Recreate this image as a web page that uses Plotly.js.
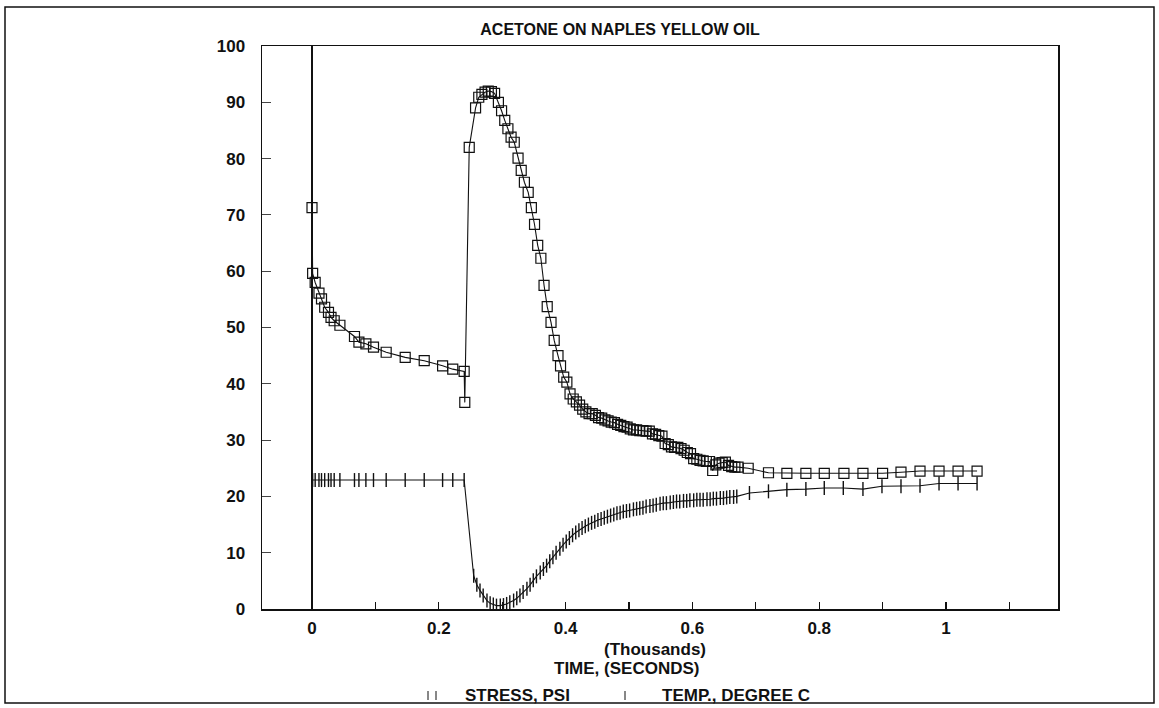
<!DOCTYPE html>
<html>
<head>
<meta charset="utf-8">
<script src="https://cdn.plot.ly/plotly-3.0.1.min.js"></script>
<style>
  html, body { margin: 0; padding: 0; background: #ffffff; }
  #chart { width: 1159px; height: 708px; }
</style>
</head>
<body>
<div id="chart"></div>
<script>
// Stress (psi) readings, time in seconds
const stressTime = [
  0, 1, 5, 11, 15, 20, 26, 30, 35, 44, 67, 74, 85, 97, 117, 147, 177, 206, 222, 240, 241,
  248, 258, 263, 268, 273, 278, 283, 288, 294, 299, 304, 309, 314, 319, 325, 330, 335, 341,
  346, 351, 356, 361, 366, 371, 377, 382, 388, 392, 397, 402, 407, 412, 417, 422, 427, 432,
  437, 442, 447, 452, 457, 462, 467, 472, 477, 482, 487, 492, 497, 502, 507, 512, 517, 522,
  527, 532, 537, 542, 547, 552, 557, 562, 567, 572, 577, 582, 587, 592, 597, 602, 607, 612,
  617, 622, 627, 632, 637, 642, 647, 652, 657, 662, 667, 672, 688, 720, 749, 779, 808, 839,
  869, 900, 929, 959, 989, 1019, 1049
];
const stressPsi = [
  71.3, 59.6, 58.0, 56.1, 55.1, 53.6, 52.7, 51.8, 51.2, 50.4, 48.4, 47.4, 47.1, 46.5, 45.6,
  44.7, 44.1, 43.2, 42.6, 42.2, 36.7,
  82.0, 89.0, 90.9, 91.4, 91.8, 92.0, 91.9, 91.6, 90.0, 88.5, 86.8, 85.3, 83.8, 82.9, 80.1,
  77.9, 75.8, 74.0, 71.3, 68.3, 64.6, 62.3, 57.5, 53.7, 50.9, 47.7, 45.0, 43.2, 41.2, 40.3,
  38.2, 37.3, 36.8, 36.2, 35.5, 35.0, 34.7, 34.7, 34.4, 34.0, 33.9, 33.6, 33.4, 33.2, 33.1,
  32.8, 32.6, 32.4, 32.3, 32.0, 31.8, 31.8, 31.7, 31.7, 31.6, 31.6, 31.1, 31.0, 30.8, 30.7,
  29.4, 29.2, 28.8, 28.7, 28.7, 28.5, 28.2, 27.8, 27.6, 26.7, 26.6, 26.4, 26.3, 26.2, 26.2,
  24.6, 25.6, 25.9, 26.0, 26.1, 25.5, 25.3, 25.2, 25.2, 25.0, 24.2, 24.1, 24.1, 24.1, 24.1,
  24.1, 24.1, 24.3, 24.5, 24.5, 24.5, 24.5
];

// Temperature (degree C) readings, time in seconds
const tempTime = [
  0, 1, 5, 11, 15, 20, 26, 30, 35, 44, 67, 74, 85, 97, 117, 147, 177, 206, 222, 240,
  255, 260, 265, 270, 276, 281, 286, 291, 297, 302, 307, 312, 318, 323, 328, 333, 339, 344,
  349, 354, 360, 365, 370, 375, 380, 385, 391, 396, 401, 406, 411, 416, 421, 426, 431, 436,
  441, 446, 451, 456, 461, 466, 471, 476, 481, 486, 491, 496, 501, 507, 512, 517, 522, 527,
  533, 538, 543, 549, 554, 559, 565, 570, 575, 580, 586, 591, 596, 602, 607, 612, 617, 623,
  628, 633, 638, 644, 649, 654, 659, 665, 670, 690, 720, 749, 779, 808, 838, 869, 899, 929,
  959, 989, 1019, 1049
];
const tempDegC = [
  22.9, 22.9, 22.9, 22.9, 22.9, 22.9, 22.9, 22.9, 22.9, 22.9, 22.9, 22.9, 22.9, 22.9, 22.9,
  22.9, 22.9, 22.9, 22.9, 22.9,
  5.9, 4.3, 3.3, 2.4, 1.5, 1.0, 0.8, 0.6, 0.6, 0.7, 0.9, 1.2, 1.5, 1.9, 2.4, 3.0, 3.6, 4.3,
  5.1, 5.8, 6.5, 7.1, 7.7, 8.5, 9.2, 10.0, 10.7, 11.4, 12.0, 12.6, 13.1, 13.6, 14.0, 14.4,
  14.7, 15.0, 15.3, 15.5, 15.8, 16.0, 16.2, 16.4, 16.6, 16.8, 17.0, 17.1, 17.3, 17.4, 17.5,
  17.7, 17.8, 17.9, 18.0, 18.2, 18.3, 18.4, 18.5, 18.7, 18.8, 18.8, 18.9, 19.0, 19.1, 19.1,
  19.2, 19.2, 19.3, 19.3, 19.4, 19.4, 19.4, 19.5, 19.5, 19.6, 19.6, 19.7, 19.7, 19.8, 19.9,
  19.9, 20.0, 20.6, 20.9, 21.2, 21.3, 21.5, 21.5, 21.3, 21.8, 21.8, 21.9, 22.3, 22.3, 22.3
];

// Axis ticks (time shown in thousands of seconds)
const xTickVals = [0, 0.1, 0.2, 0.3, 0.4, 0.5, 0.6, 0.7, 0.8, 0.9, 1.0, 1.1];
const xTickText = ['0', '', '0.2', '', '0.4', '', '0.6', '', '0.8', '', '1', ''];
const yTickVals = [0, 10, 20, 30, 40, 50, 60, 70, 80, 90, 100];

const titleText = 'ACETONE ON NAPLES YELLOW OIL';
const unitText = '(Thousands)';
const xTitleText = 'TIME, (SECONDS)';
const stressName = 'STRESS, PSI';
const tempName = 'TEMP., DEGREE C';

// Page geometry (pixels)
const W = 1159, H = 708;
const PLOT = { l: 262, r: 1058, t: 46, b: 609 };
const px2x = p => (p - PLOT.l) / (PLOT.r - PLOT.l);
const px2y = p => (PLOT.b - p) / (PLOT.b - PLOT.t);

const FONT = 'Liberation Sans, Arial, Helvetica, sans-serif';
const INK = '#111111';

const toThousands = arr => arr.map(v => v / 1000);

const traces = [
  {
    x: toThousands(stressTime), y: stressPsi, name: stressName,
    type: 'scatter', mode: 'lines+markers', cliponaxis: true,
    line: { color: INK, width: 1.1 },
    marker: { symbol: 'square-open', size: 10, color: INK, line: { color: INK, width: 1.2 } }
  },
  {
    x: toThousands(tempTime), y: tempDegC, name: tempName,
    type: 'scatter', mode: 'lines+markers', cliponaxis: true,
    line: { color: INK, width: 1.1 },
    marker: { symbol: 'line-ns-open', size: 10, color: INK, line: { color: INK, width: 1.4 } }
  }
];

const txt = (text, xpx, ypx, anchor) => ({
  text, xref: 'paper', yref: 'paper', x: px2x(xpx), y: px2y(ypx),
  xanchor: anchor || 'center', yanchor: 'middle', showarrow: false,
  font: { family: FONT, size: 17, color: INK, weight: 700 }
});

const vline = (xpx, y0px, y1px, w) => ({
  type: 'line', xref: 'paper', yref: 'paper',
  x0: px2x(xpx), x1: px2x(xpx), y0: px2y(y0px), y1: px2y(y1px),
  line: { color: INK, width: w || 1 }
});

const layout = {
  width: W, height: H, autosize: false,
  paper_bgcolor: '#ffffff', plot_bgcolor: '#ffffff',
  margin: { l: PLOT.l, r: W - PLOT.r, t: PLOT.t, b: H - PLOT.b, pad: 0 },
  showlegend: false,
  font: { family: FONT, size: 17, color: INK },
  title: {
    text: titleText, xref: 'container', yref: 'container',
    x: 620 / W, xanchor: 'center', y: 1 - 29 / H, yanchor: 'middle',
    font: { family: FONT, size: 16, color: INK, weight: 700 }
  },
  xaxis: {
    range: [(PLOT.l - 312) / 634, (PLOT.r - 312) / 634],
    tickmode: 'array', tickvals: xTickVals, ticktext: xTickText,
    ticks: 'inside', ticklen: 7, tickwidth: 1.3, tickcolor: INK,
    showline: true, linecolor: INK, linewidth: 1.5, mirror: true,
    showgrid: false,
    zeroline: true, zerolinecolor: INK, zerolinewidth: 1.5,
    tickfont: { family: FONT, size: 17, color: INK, weight: 700 },
    ticklabelstandoff: 3
  },
  yaxis: {
    range: [0, 100],
    tickmode: 'array', tickvals: yTickVals,
    ticks: 'inside', ticklen: 9, tickwidth: 1, tickcolor: '#444444',
    showline: true, linecolor: INK, linewidth: 1.5, mirror: true,
    showgrid: false, zeroline: false,
    tickfont: { family: FONT, size: 17, color: INK, weight: 700 },
    ticklabelstandoff: 12
  },
  annotations: [
    txt(unitText, 655, 649),
    txt(xTitleText, 626, 668),
    txt(stressName, 463, 695, 'left'),
    txt(tempName, 660, 695, 'left')
  ],
  shapes: [
    // outer page frame
    { type: 'rect', xref: 'paper', yref: 'paper',
      x0: px2x(5), x1: px2x(1154), y0: px2y(703), y1: px2y(7),
      line: { color: INK, width: 1.5 }, layer: 'below' },
    // legend glyphs
    vline(428, 691, 700, 1), vline(436, 691, 700, 1),
    vline(625, 691, 700, 1)
  ]
};

Plotly.newPlot('chart', traces, layout, { staticPlot: true, displayModeBar: false });
</script>
</body>
</html>
